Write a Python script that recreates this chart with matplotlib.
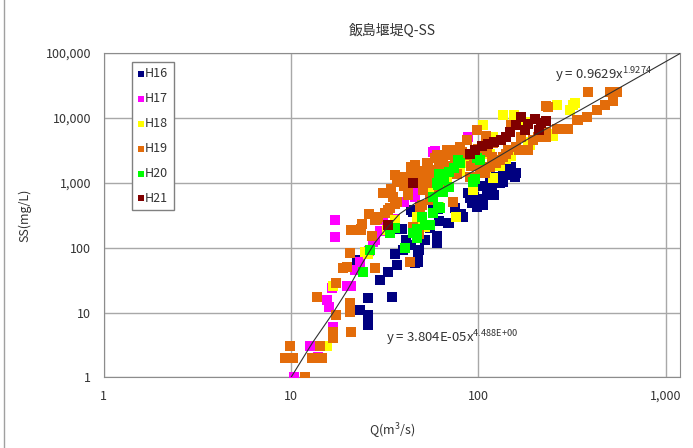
import numpy as np
import matplotlib
matplotlib.use('Agg')
import matplotlib.pyplot as plt
from matplotlib.ticker import FixedLocator, FixedFormatter, NullLocator

plt.rcParams['font.family'] = ['Noto Sans CJK JP', 'DejaVu Sans']

title = '飯島堰堤Q-SS'
series_names = ['H16', 'H17', 'H18', 'H19', 'H20', 'H21']
series_colors = ['#000080', '#ff00ff', '#ffff00', '#e36c0a', '#00ff00', '#800000']

# (Q, SS) pairs
h16 = [[22.6, 64], [23, 63], [33, 42], [30, 32], [36.6, 54], [25.8, 16.5], [34.5, 17.5], [23.4, 11],
       [25.8, 9], [25.8, 6.4], [39.8, 91], [47.8, 60], [47.8, 82], [60, 116], [69, 235], [81, 316],
       [45, 355], [49, 265], [57, 380], [61, 390], [93, 480], [106, 450], [83, 297], [70, 237],
       [90, 580], [98, 420], [111, 640], [121, 640], [136, 1030], [147, 1470], [157, 1230], [51, 209],
       [46, 355], [39, 196], [147, 1740], [141, 1300], [115, 1100], [150, 1750], [130, 1000], [118, 800],
       [100, 550], [95, 600], [81, 330], [44, 375], [38, 196], [41, 130], [48, 91], [46, 57],
       [60, 150], [55, 200], [62, 260], [75, 400], [88, 700], [105, 900], [125, 1200], [135, 1500],
       [160, 1400], [52, 130], [44, 110], [36, 80]]
h17 = [[17.1, 270], [17.1, 143], [27.5, 123], [23.4, 60], [16.5, 23.5], [19.8, 26], [21, 26], [15.5, 15.5],
       [16.7, 6], [12.6, 3], [14, 2.1], [10.4, 1], [28, 130], [46, 640], [57, 2950], [88, 5100],
       [59, 3070], [36, 280], [46, 600], [31, 265], [46, 720], [30, 180], [22, 45], [16, 12],
       [40, 500], [26, 90]]
h18 = [[15.5, 3], [16.8, 25.6], [25.8, 81], [32.5, 185], [47, 300], [62, 425], [33, 196], [48, 280],
       [36, 270], [24.8, 86], [68, 1090], [94, 760], [120, 1170], [116, 2800], [106, 7700], [136, 10900],
       [155, 10900], [76, 300], [52, 210], [177, 8700], [320, 15600], [262, 15600], [251, 5300], [102, 3100],
       [66, 1100], [102, 1400], [184, 4200], [120, 5100], [330, 17000], [310, 13000], [250, 5700], [190, 3800],
       [56, 700], [80, 1500], [140, 2300], [210, 6000], [90, 2000], [130, 1800], [150, 2600], [110, 1600]]
h19 = [[9.9, 3], [9.3, 2], [10.3, 2], [11.9, 1], [12.9, 2], [14.6, 2], [14.3, 3], [16.8, 5.1],
       [16.8, 4], [21, 5.1], [17.5, 9.1], [20.6, 13.9], [20.6, 10.3], [13.7, 17.5], [19, 48], [20, 50],
       [17.5, 28], [20.6, 83], [28, 48], [23.8, 185], [29.3, 300], [33, 375], [36, 475], [43, 60],
       [45, 175], [50, 450], [73, 500], [21, 185], [28, 270], [31.7, 335], [33.6, 400], [36.6, 500],
       [38, 1030], [44, 1740], [42, 800], [51, 760], [54, 1850], [52, 1300], [45, 210], [48, 160],
       [23.8, 196], [28.7, 280], [46, 1850], [53, 1970], [55, 970], [59, 2360], [68, 3150], [75, 2400],
       [80, 3540], [98, 6400], [87, 4530], [90, 1220], [102, 1560], [125, 1970], [111, 2960], [136, 2470],
       [160, 3540], [170, 5100], [150, 7700], [62, 760], [55, 540], [49, 420], [65, 1220], [77, 1370],
       [45, 1370], [36, 1300], [42, 650], [231, 15000], [157, 7700], [335, 9100], [262, 6800], [297, 6800],
       [231, 5100], [196, 4530], [166, 3150], [145, 3150], [130, 2200], [115, 1740], [108, 1400], [96, 1200],
       [73, 3150], [65, 2200], [57.5, 1560], [385, 24800], [505, 24800], [550, 24800], [525, 18300], [475, 15600],
       [430, 13000], [380, 10300], [340, 9100], [300, 6800], [230, 6000], [235, 14700], [208, 5100], [185, 3150],
       [37, 1030], [31, 700], [26, 330], [60, 2700], [85, 2700], [120, 4000], [70, 1800], [40, 900],
       [24, 230], [27, 150], [35, 600], [50, 1100], [58, 1300], [62, 1700], [140, 2800], [95, 2200],
       [110, 5200], [70, 2700], [82, 3000], [100, 3300], [92, 1800], [118, 2500], [48, 1500], [40, 1200],
       [34, 800]]
h20 = [[24.3, 42], [26.4, 91], [33.6, 165], [40.5, 98], [47, 138], [55, 220], [57.5, 335], [61, 420],
       [52, 220], [60, 970], [62.5, 400], [57.5, 600], [65, 720], [50, 300], [47, 190], [61, 920],
       [70, 1470], [80, 1970], [94, 1030], [99, 2360], [78, 2200], [102, 2200], [96, 1150], [70, 860],
       [62, 1370], [66, 1100], [74, 1700], [45, 170], [36, 200]]
h21 = [[45, 1000], [33, 220], [96, 3150], [113, 3960], [141, 5100], [147, 6000], [170, 10300], [177, 6400],
       [200, 9600], [216, 8200], [212, 6400], [90, 2800], [133, 4530], [105, 3700], [122, 4200], [185, 8000],
       [160, 7700], [230, 9000]]
all_series = [h16, h17, h18, h19, h20, h21]

# curve drawn on the chart, vertices
curve_q = [10, 13, 16.5, 20, 24, 28, 32, 38, 46, 55, 61, 102, 189, 349, 1194]
curve_ss = [1, 3.4, 9.2, 22, 57, 118, 190, 330, 480, 610, 750, 1700, 4900, 13000, 97000]

x_ticks = [1, 10, 100, 1000]
x_labels = ['1', '10', '100', '1,000']
y_ticks = [1, 10, 100, 1000, 10000, 100000]
y_labels = ['1', '10', '100', '1,000', '10,000', '100,000']

fig = plt.figure(figsize=(6.93, 4.48), dpi=100)
ax = fig.add_axes([0.1496, 0.1574, 0.8316, 0.725])

for name, color, pts in zip(series_names, series_colors, all_series):
    arr = np.array(pts)
    ax.scatter(arr[:, 0], arr[:, 1], marker='s', s=44, color=color, linewidths=0, label=name, zorder=3)

ax.plot(curve_q, curve_ss, color='#303030', lw=0.8, zorder=4)

ax.set_xscale('log')
ax.set_yscale('log')
ax.set_xlim(1, 1194)
ax.set_ylim(1, 100000)
ax.xaxis.set_major_locator(FixedLocator(x_ticks))
ax.xaxis.set_major_formatter(FixedFormatter(x_labels))
ax.xaxis.set_minor_locator(NullLocator())
ax.yaxis.set_major_locator(FixedLocator(y_ticks))
ax.yaxis.set_major_formatter(FixedFormatter(y_labels))
ax.yaxis.set_minor_locator(NullLocator())
ax.tick_params(axis='both', length=0, labelsize=9, colors='#333333', pad=9)
ax.grid(True, color='#a8a8a8', lw=1)
ax.set_axisbelow(True)
for sp in ax.spines.values():
    sp.set_color('#8c8c8c')

ax.set_title(title, fontsize=10, color='#333333', pad=13)
ax.set_xlabel('Q(m$^\\mathregular{3}$/s)', fontsize=9, color='#333333', labelpad=13)
ax.set_ylabel('SS(mg/L)', fontsize=9, color='#333333', labelpad=10)

ax.text(257, 45000, 'y = 0.9629x$^\\mathregular{1.9274}$', fontsize=9.5, color='#333333', va='center', zorder=5)
ax.text(32.2, 4.05, 'y = 3.804E-05x$^\\mathregular{4.488E{+}00}$', fontsize=9.5, color='#333333',
        va='center', zorder=5)

leg = ax.legend(loc='upper left', bbox_to_anchor=(0.049, 0.972), fontsize=9, markerscale=0.75,
                handlelength=0.5, handletextpad=0.1, labelspacing=0.95, borderpad=0.45,
                fancybox=False, framealpha=1, edgecolor='#808080', borderaxespad=0)
for t in leg.get_texts():
    t.set_color('#333333')

fig.add_artist(plt.Line2D([0.006, 0.006], [0, 1], color='#a0a0a0', lw=1, transform=fig.transFigure))

fig.savefig('out.png', dpi=100)
